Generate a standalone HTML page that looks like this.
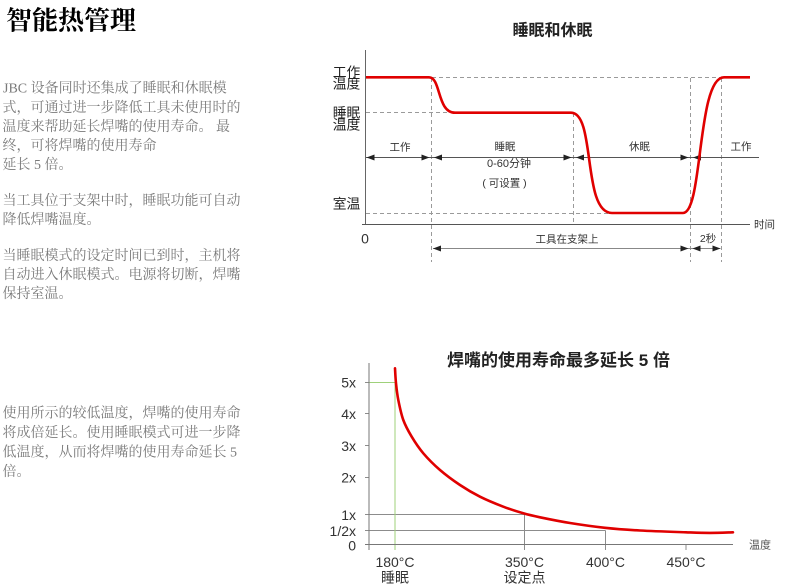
<!DOCTYPE html>
<html><head><meta charset="utf-8"><style>
html,body{margin:0;padding:0;background:#fff;}
svg{display:block;}
.p{font-family:"Liberation Serif","Noto Serif CJK SC",serif;font-size:14px;fill:#7a7a7a;}
.s{font-family:"Liberation Sans","Noto Sans CJK SC",sans-serif;}
</style></head><body>
<svg width="790" height="588" viewBox="0 0 790 588" xmlns="http://www.w3.org/2000/svg">
<!-- Title -->
<text x="6" y="21" dominant-baseline="central" style="font-family:'Liberation Serif','Noto Serif CJK SC',serif;font-size:26px;font-weight:700;fill:#000">智能热管理</text>

<!-- paragraphs -->
<g class="p" dominant-baseline="central">
<text x="3" y="89">JBC 设备同时还集成了睡眠和休眠模</text>
<text x="2.5" y="108.5">式，可通过进一步降低工具未使用时的</text>
<text x="2.5" y="127.7">温度来帮助延长焊嘴的使用寿命。 最</text>
<text x="2.5" y="146.7">终，可将焊嘴的使用寿命</text>
<text x="2.5" y="165.7">延长 5 倍。</text>
<text x="2.5" y="201.7">当工具位于支架中时，睡眠功能可自动</text>
<text x="2.5" y="220.5">降低焊嘴温度。</text>
<text x="2.5" y="256.7">当睡眠模式的设定时间已到时，主机将</text>
<text x="2.5" y="275.5">自动进入休眠模式。电源将切断，焊嘴</text>
<text x="2.5" y="294.3">保持室温。</text>
<text x="2.5" y="414">使用所示的较低温度，焊嘴的使用寿命</text>
<text x="2.5" y="433.5">将成倍延长。使用睡眠模式可进一步降</text>
<text x="2.5" y="453">低温度，从而将焊嘴的使用寿命延长 5</text>
<text x="2.5" y="472.5">倍。</text>
</g>

<!-- ========== TOP CHART ========== -->
<text class="s" x="552.5" y="31" text-anchor="middle" dominant-baseline="central" style="font-size:16px;font-weight:700;fill:#222">睡眠和休眠</text>

<!-- dashed lines -->
<g stroke="#9a9a9a" stroke-width="1" stroke-dasharray="4 3" fill="none">
<line x1="432" y1="77.5" x2="722" y2="77.5"/>
<line x1="366" y1="112.5" x2="452" y2="112.5"/>
<line x1="366" y1="213.5" x2="610" y2="213.5"/>
<line x1="431.5" y1="78" x2="431.5" y2="262"/>
<line x1="573.5" y1="113" x2="573.5" y2="224"/>
<line x1="690.5" y1="78" x2="690.5" y2="262"/>
<line x1="721.5" y1="78" x2="721.5" y2="262"/>
</g>

<!-- axes -->
<line x1="365.5" y1="50" x2="365.5" y2="224.5" stroke="#666" stroke-width="1"/>
<line x1="362" y1="224.5" x2="750" y2="224.5" stroke="#555" stroke-width="1"/>

<!-- arrow line -->
<line x1="366" y1="157.5" x2="759" y2="157.5" stroke="#555" stroke-width="1"/>
<g fill="#222">
<polygon points="366.5,157.5 374.5,154.5 374.5,160.5"/>
<polygon points="429.5,157.5 421.5,154.5 421.5,160.5"/>
<polygon points="434,157.5 442,154.5 442,160.5"/>
<polygon points="571.5,157.5 563.5,154.5 563.5,160.5"/>
<polygon points="576,157.5 584,154.5 584,160.5"/>
<polygon points="688.5,157.5 680.5,154.5 680.5,160.5"/>
<polygon points="693,157.5 701,154.5 701,160.5"/>
</g>
<line x1="433" y1="248.5" x2="720.5" y2="248.5" stroke="#888" stroke-width="1"/>
<g fill="#222">
<polygon points="433,248.5 441,245.5 441,251.5"/>
<polygon points="688.5,248.5 680.5,245.5 680.5,251.5"/>
<polygon points="692.5,248.5 700.5,245.5 700.5,251.5"/>
<polygon points="720.5,248.5 712.5,245.5 712.5,251.5"/>
</g>

<!-- red curve top -->
<path d="M366,77.3 H429 C441,77.3 437,112.7 455,112.7 H571 C596,112.7 582,213 612,213 H683 C703,213 697,77.3 724,77.3 H750" fill="none" stroke="#e00000" stroke-width="2.6" stroke-linejoin="round"/>

<!-- y labels -->
<g class="s" text-anchor="middle" dominant-baseline="central" style="font-size:13.8px;fill:#222">
<text x="346.5" y="72.5">工作</text>
<text x="346.5" y="84.2">温度</text>
<text x="346.5" y="113">睡眠</text>
<text x="346.5" y="124.8">温度</text>
<text x="346.5" y="204">室温</text>
</g>
<text class="s" x="365" y="238.5" text-anchor="middle" dominant-baseline="central" style="font-size:14px;fill:#333">0</text>

<!-- small labels -->
<g class="s" text-anchor="middle" dominant-baseline="central" style="font-size:10.5px;fill:#333">
<text x="400" y="147.3">工作</text>
<text x="505" y="146.8">睡眠</text>
<text x="509" y="164" style="font-size:11px">0-60分钟</text>
<text x="504.5" y="183.3">( 可设置 )</text>
<text x="639.5" y="147">休眠</text>
<text x="741" y="147">工作</text>
<text x="764.5" y="225">时间</text>
<text x="567" y="239.5">工具在支架上</text>
<text x="708" y="239">2秒</text>
</g>

<!-- ========== BOTTOM CHART ========== -->
<text class="s" x="558.5" y="360.5" text-anchor="middle" dominant-baseline="central" style="font-size:17px;font-weight:700;fill:#222">焊嘴的使用寿命最多延长 5 倍</text>

<!-- grid/reference lines -->
<g stroke="#8c8c8c" stroke-width="1" fill="none">
<line x1="365" y1="514.5" x2="524.5" y2="514.5"/>
<line x1="524.5" y1="514.5" x2="524.5" y2="550"/>
<line x1="365" y1="530.5" x2="605.5" y2="530.5"/>
<line x1="605.5" y1="530.5" x2="605.5" y2="550"/>
<line x1="365" y1="413.5" x2="369" y2="413.5"/>
<line x1="365" y1="445.5" x2="369" y2="445.5"/>
<line x1="365" y1="477.5" x2="369" y2="477.5"/>
<line x1="365" y1="382.5" x2="369" y2="382.5"/>
<line x1="686" y1="544.5" x2="686" y2="550"/>
</g>
<g stroke="#9fd17a" stroke-width="1" fill="none">
<line x1="369" y1="382.5" x2="395" y2="382.5"/>
<line x1="395" y1="382.5" x2="395" y2="550"/>
</g>
<line x1="369" y1="363" x2="369" y2="550" stroke="#777" stroke-width="1"/>
<line x1="365" y1="544.5" x2="733" y2="544.5" stroke="#777" stroke-width="1"/>

<!-- red decay curve (smoothed) -->
<path d="M395,368.3
C395.17,370.8 395.45,378.02 396,383.3
C396.55,388.58 397.08,393.88 398.3,400
C399.52,406.12 401.07,413.88 403.3,420
C405.53,426.12 408.37,431.15 411.7,436.7
C415.03,442.25 418.58,447.75 423.3,453.3
C428.02,458.85 433.88,464.72 440,470
C446.12,475.28 453.33,480.55 460,485
C466.67,489.45 472.78,493.08 480,496.7
C487.22,500.32 496.08,503.93 503.3,506.7
C510.52,509.47 517.18,511.53 523.3,513.3
C529.42,515.07 532.22,515.68 540,517.3
C547.78,518.92 559.17,521.25 570,523
C580.83,524.75 593.33,526.55 605,527.8
C616.67,529.05 626.5,529.75 640,530.5
C653.5,531.25 674.33,531.9 686,532.3
C697.67,532.7 702.17,532.9 710,532.9
C717.83,532.9 729.17,532.4 733,532.3" fill="none" stroke="#e00000" stroke-width="2.6" stroke-linecap="round"/>

<!-- y labels -->
<g class="s" text-anchor="end" dominant-baseline="central" style="font-size:14px;fill:#333">
<text x="356" y="382.5">5x</text>
<text x="356" y="414">4x</text>
<text x="356" y="446">3x</text>
<text x="356" y="477.5">2x</text>
<text x="356" y="515">1x</text>
<text x="356" y="531">1/2x</text>
<text x="356" y="545.5">0</text>
</g>
<!-- x labels -->
<g class="s" text-anchor="middle" dominant-baseline="central" style="font-size:14px;fill:#333">
<text x="395" y="562">180°C</text>
<text x="395" y="577.5">睡眠</text>
<text x="524.5" y="562">350°C</text>
<text x="524.5" y="577.5">设定点</text>
<text x="605.5" y="562">400°C</text>
<text x="686" y="562">450°C</text>
</g>
<text class="s" x="760" y="545.5" text-anchor="middle" dominant-baseline="central" style="font-size:11px;fill:#555">温度</text>
</svg>
</body></html>
